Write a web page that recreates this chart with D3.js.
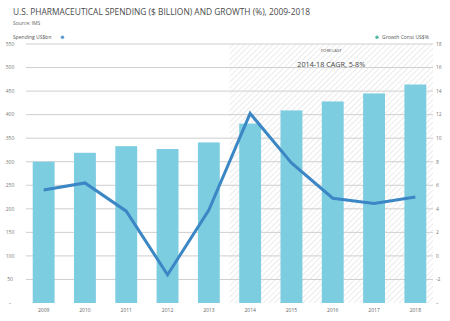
<!DOCTYPE html>
<html>
<head>
<meta charset="utf-8">
<script src="https://cdn.jsdelivr.net/npm/d3@7"></script>
<style>
  body { margin: 0; background: #fff; }
  svg { display: block; font-family: "Open Sans", "Noto Sans", sans-serif; }
</style>
</head>
<body>
<div id="chart"></div>
<script>
// Spending (US$bn, left axis) and growth (%, right axis) by year
const years = ["2009", "2010", "2011", "2012", "2013", "2014", "2015", "2016", "2017", "2018"];
const spending = [300, 319, 333, 327, 341, 381, 409, 428, 445, 464];
const growth = [5.6, 6.2, 3.8, -1.6, 3.9, 12.1, 7.9, 4.9, 4.45, 5.0];
const leftTicks = [0, 50, 100, 150, 200, 250, 300, 350, 400, 450, 500, 550];
const rightTicks = [-4, -2, 0, 2, 4, 6, 8, 10, 12, 14, 16, 18];
const forecastYears = ["2014", "2015", "2016", "2017", "2018"];

const width = 450, height = 321;
const plot = { left: 23, right: 436, top: 44, bottom: 303 };

const svg = d3.select("#chart")
              .append("svg")
              .attr("width", width)
              .attr("height", height);

// Hatch pattern for the forecast block
const defs = svg.append("defs");
const pattern = defs.append("pattern")
                    .attr("id", "hatch")
                    .attr("patternUnits", "userSpaceOnUse")
                    .attr("width", 4)
                    .attr("height", 4)
                    .attr("patternTransform", "rotate(45)");
pattern.append("line")
       .attr("x1", 0).attr("y1", 0)
       .attr("x2", 0).attr("y2", 4)
       .attr("stroke", "#d4d4d4")
       .attr("stroke-width", 0.9);

const xScale = d3.scaleBand()
                 .domain(years)
                 .range([plot.left, plot.right])
                 .paddingInner(0.47)
                 .paddingOuter(0.235);

const yLeft = d3.scaleLinear()
                .domain([0, 550])
                .range([plot.bottom, plot.top]);

const yRight = d3.scaleLinear()
                 .domain([-4, 18])
                 .range([plot.bottom, plot.top]);

// Forecast shading starts at the band boundary before 2014
const fcStart = xScale(forecastYears[0]) - xScale.step() * xScale.paddingInner() / 2;
const fcEnd = 433;
svg.append("rect")
   .attr("x", fcStart)
   .attr("y", plot.top)
   .attr("width", fcEnd - fcStart)
   .attr("height", plot.bottom - plot.top)
   .attr("fill", "url(#hatch)");

// Gridlines
svg.append("g")
   .selectAll("line")
   .data(leftTicks.slice(1))
   .enter()
   .append("line")
   .attr("x1", 26)
   .attr("x2", fcEnd)
   .attr("y1", d => yLeft(d))
   .attr("y2", d => yLeft(d))
   .attr("stroke", "#cfcfcf")
   .attr("stroke-width", 1);

// Left axis labels (0 shown as a small dash)
svg.append("g")
   .selectAll("text")
   .data(leftTicks)
   .enter()
   .append("text")
   .attr("x", 10)
   .attr("y", d => yLeft(d) + 1.8)
   .attr("text-anchor", "middle")
   .attr("font-size", 5)
   .attr("fill", "#777")
   .text(d => d === 0 ? "–" : d);

// Right axis labels (-4 shown as a small dash)
svg.append("g")
   .selectAll("text")
   .data(rightTicks)
   .enter()
   .append("text")
   .attr("x", 436)
   .attr("y", d => yRight(d) + 1.8)
   .attr("text-anchor", "start")
   .attr("font-size", 5)
   .attr("fill", "#777")
   .text(d => d === -4 ? "–" : d);

// Spending bars
svg.append("g")
   .selectAll("rect")
   .data(years)
   .enter()
   .append("rect")
   .attr("x", d => xScale(d))
   .attr("y", (d, i) => yLeft(spending[i]))
   .attr("width", xScale.bandwidth())
   .attr("height", (d, i) => yLeft(0) - yLeft(spending[i]))
   .attr("fill", "#7dcde0");

// Growth line
svg.append("path")
   .datum(growth)
   .attr("d", d3.line()
                .x((d, i) => xScale(years[i]) + xScale.bandwidth() / 2)
                .y(d => yRight(d)))
   .attr("fill", "none")
   .attr("stroke", "#3b86c5")
   .attr("stroke-width", 3)
   .attr("stroke-linejoin", "miter");

// Year labels
svg.append("g")
   .selectAll("text")
   .data(years)
   .enter()
   .append("text")
   .attr("x", d => xScale(d) + xScale.bandwidth() / 2)
   .attr("y", 312)
   .attr("text-anchor", "middle")
   .attr("font-size", 5)
   .attr("fill", "#666")
   .text(d => d);

// Forecast annotation
const fcMid = (fcStart + fcEnd) / 2;
svg.append("text")
   .attr("x", fcMid)
   .attr("y", 51.5)
   .attr("text-anchor", "middle")
   .attr("font-size", 4.3)
   .attr("fill", "#555")
   .text("FORECAST");
svg.append("text")
   .attr("x", fcMid)
   .attr("y", 67)
   .attr("text-anchor", "middle")
   .attr("font-size", 7.2)
   .attr("fill", "#444")
   .text("2014-18 CAGR, 5-8%");

// Title and source
svg.append("text")
   .attr("x", 13)
   .attr("y", 15)
   .attr("font-size", 9)
   .attr("fill", "#4a4a4a")
   .attr("textLength", 297)
   .attr("lengthAdjust", "spacingAndGlyphs")
   .text("U.S. PHARMACEUTICAL SPENDING ($ BILLION) AND GROWTH (%), 2009-2018");
svg.append("text")
   .attr("x", 13)
   .attr("y", 25)
   .attr("font-size", 5)
   .attr("fill", "#666")
   .text("Source: IMS");

// Legend
svg.append("text")
   .attr("x", 13)
   .attr("y", 38.8)
   .attr("font-size", 5)
   .attr("fill", "#555")
   .text("Spending US$bn");
svg.append("circle")
   .attr("cx", 62.5)
   .attr("cy", 37.2)
   .attr("r", 1.7)
   .attr("fill", "#5b9bd5");
svg.append("circle")
   .attr("cx", 377)
   .attr("cy", 37.2)
   .attr("r", 1.7)
   .attr("fill", "#4fb8a0");
svg.append("text")
   .attr("x", 382)
   .attr("y", 38.8)
   .attr("font-size", 5)
   .attr("fill", "#555")
   .text("Growth Const US$%");
</script>
</body>
</html>
